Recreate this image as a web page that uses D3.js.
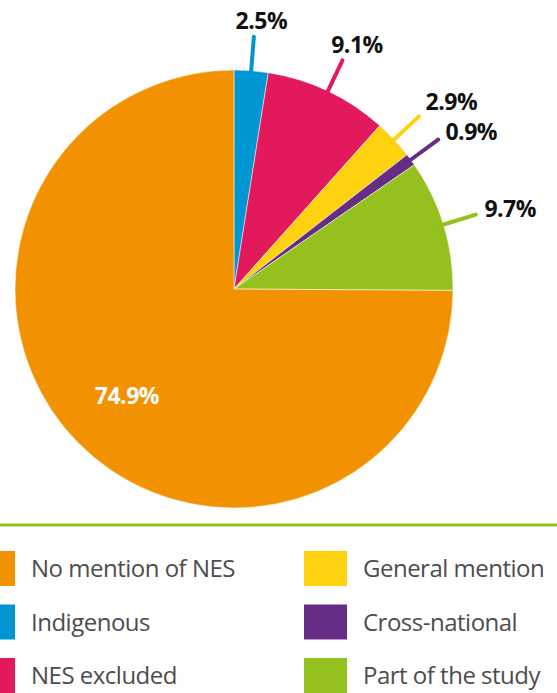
<!DOCTYPE html>
<html>
<head>
<meta charset="utf-8">
<script src="https://cdn.jsdelivr.net/npm/d3@7"></script>
<style>
  html, body { margin: 0; padding: 0; background: #fff; }
  svg { display: block; }
</style>
</head>
<body>
<script>
const width = 557;
const height = 693;

// slices, clockwise from 12 o'clock
const categories = ['Indigenous', 'NES excluded', 'General mention', 'Cross-national', 'Part of the study', 'No mention of NES'];
const shares = [2.5, 9.1, 2.9, 0.9, 9.7, 74.9];
const colors = ['#0096d1', '#e2195a', '#fed20f', '#662d86', '#95c11f', '#f39200'];

// legend columns
const legendLeft = ['No mention of NES', 'Indigenous', 'NES excluded'];
const legendRight = ['General mention', 'Cross-national', 'Part of the study'];

const cx = 234, cy = 289, radius = 219;
const lineEnd = 253;

const color = d3.scaleOrdinal().domain(categories).range(colors);

const svg = d3.select('body')
    .append('svg')
    .attr('width', width)
    .attr('height', height)
    .attr('xmlns', 'http://www.w3.org/2000/svg');

const pie = d3.pie().sort(null).value(d => d.value);
const slices = pie(categories.map((c, i) => ({ name: c, value: shares[i] })));

const arc = d3.arc().innerRadius(0).outerRadius(radius);
const insideArc = d3.arc().innerRadius(151).outerRadius(151);

const g = svg.append('g').attr('transform', `translate(${cx},${cy})`);

g.selectAll('path.slice')
    .data(slices)
    .join('path')
    .attr('class', 'slice')
    .attr('d', arc)
    .attr('fill', d => color(d.data.name))
    .attr('stroke', '#fff')
    .attr('stroke-width', 0.5);

const mid = d => (d.startAngle + d.endAngle) / 2;
const polar = (a, r) => [r * Math.sin(a), -r * Math.cos(a)];

const outer = slices.filter(d => d.data.value < 50);
const big = slices.filter(d => d.data.value >= 50);

// leader lines
g.selectAll('line.leader')
    .data(outer)
    .join('line')
    .attr('class', 'leader')
    .attr('x1', d => polar(mid(d), radius - 3)[0])
    .attr('y1', d => polar(mid(d), radius - 3)[1])
    .attr('x2', d => polar(mid(d), lineEnd)[0])
    .attr('y2', d => polar(mid(d), lineEnd)[1])
    .attr('stroke', d => color(d.data.name))
    .attr('stroke-width', 4)
    .attr('stroke-linecap', 'round');

// label positions: near top centred above the line end, on the side start-anchored
const labels = outer.map(d => {
    const a = mid(d);
    if (a < 0.6) {
        const p = polar(a, lineEnd);
        return { d, x: p[0] + 6 + 20 * Math.sin(a), y: p[1] - 16, anchor: 'middle' };
    }
    const p = polar(a, 262);
    return { d, x: p[0], y: p[1] - 3, anchor: 'start' };
});
// push side labels up so they don't collide
const side = labels.filter(l => l.anchor === 'start');
for (let i = side.length - 2; i >= 0; i--) {
    side[i].y = Math.min(side[i].y, side[i + 1].y - 30);
}

g.selectAll('text.outer')
    .data(labels)
    .join('text')
    .attr('class', 'outer')
    .attr('x', l => l.x)
    .attr('y', l => l.y)
    .attr('dy', '0.357em')
    .attr('text-anchor', l => l.anchor)
    .style('font-family', '"Open Sans", sans-serif')
    .style('font-weight', 700)
    .style('font-size', '23px')
    .style('letter-spacing', '-0.5px')
    .attr('fill', '#111')
    .text(l => l.d.data.value.toFixed(1) + '%');

g.selectAll('text.inner')
    .data(big)
    .join('text')
    .attr('class', 'inner')
    .attr('x', d => insideArc.centroid(d)[0])
    .attr('y', d => insideArc.centroid(d)[1])
    .attr('dy', '0.357em')
    .attr('text-anchor', 'middle')
    .style('font-family', '"Open Sans", sans-serif')
    .style('font-weight', 700)
    .style('font-size', '23px')
    .style('letter-spacing', '-0.5px')
    .attr('fill', '#fff')
    .text(d => d.data.value.toFixed(1) + '%');

// divider
svg.append('line')
    .attr('x1', 0).attr('x2', width)
    .attr('y1', 525).attr('y2', 525)
    .attr('stroke', '#95c11f')
    .attr('stroke-width', 3);

// legend
const rowY = d3.scaleLinear().domain([0, 2]).range([551, 658]);
const colX = d3.scaleOrdinal().domain([0, 1]).range([-28, 304]);
const legendItems = legendLeft.map((n, i) => ({ name: n, col: 0, row: i }))
    .concat(legendRight.map((n, i) => ({ name: n, col: 1, row: i })));

const items = svg.selectAll('g.legend')
    .data(legendItems)
    .join('g')
    .attr('class', 'legend')
    .attr('transform', d => `translate(${colX(d.col)},${rowY(d.row)})`);

items.append('rect')
    .attr('width', 43)
    .attr('height', 35)
    .attr('fill', d => color(d.name));

items.append('text')
    .attr('x', 59)
    .attr('y', 17.5)
    .attr('dy', '0.357em')
    .style('font-family', '"Open Sans", sans-serif')
    .style('font-size', '24px')
    .style('letter-spacing', '-0.5px')
    .attr('fill', '#4d4d4d')
    .text(d => d.name);
</script>
</body>
</html>
